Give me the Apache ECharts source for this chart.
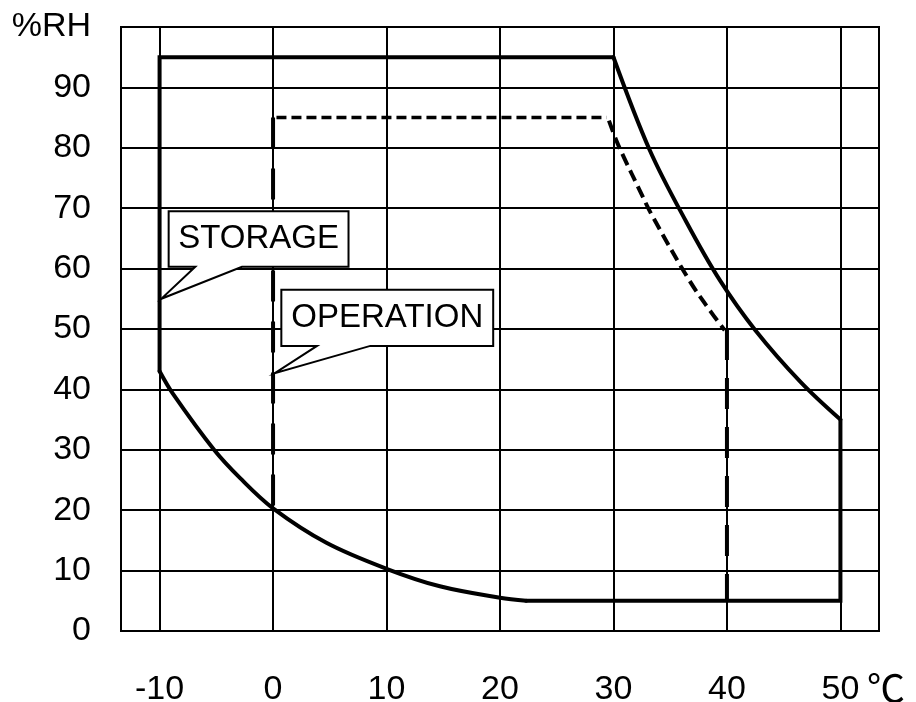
<!DOCTYPE html>
<html><head><meta charset="utf-8">
<script src="https://cdn.jsdelivr.net/npm/echarts@6/dist/echarts.min.js"></script>
<style>html,body{margin:0;padding:0;background:#fff}#c{width:916px;height:702px}</style>
</head><body><div id="c"></div>
<script>
// ---- data ----
const xTicks = [-10, 0, 10, 20, 30, 40, 50];
const yTicks = [0, 10, 20, 30, 40, 50, 60, 70, 80, 90, 100];
const yTickLabels = ['0', '10', '20', '30', '40', '50', '60', '70', '80', '90', '%RH'];
const xUnit = '℃';

// STORAGE (solid)
const storageLeftTop = [[-10, 43], [-10, 95], [30, 95]];
const storageRightCurve = [[30, 95], [33.2, 79.6], [36.4, 67.8], [39.4, 58], [42.5, 49.8], [46.5, 41.2], [50, 35]];
const storageRightBottom = [[50, 35], [50, 5], [22.3, 5]];
const storageLowerCurve = [[22.3, 5], [20, 5.5], [14.7, 7.4], [10, 10.3], [4.7, 14.6], [0, 20.3], [-2.9, 25.3], [-5.2, 30], [-8.8, 39.2], [-10, 43]];

// OPERATION (dashed)
const opLeft = [[0, 85], [0, 20.3]];
const opTop = [[0.3, 85], [29.4, 85]];
const opCurve = [[29.6, 84.5], [30.3, 81], [30.9, 78.5], [32.3, 73], [33.4, 68.8], [36.7, 58], [38.6, 52.8], [39.8, 49.8]];
const opRight = [[40, 50], [40, 5]];

// callouts
const calloutTexts = ['STORAGE', 'OPERATION'];
const calloutBoxes = [[-9.2, 69.5, 6.65, 60.3], [0.73, 56.5, 19.4, 47.2]]; // left, top, right, bottom
const calloutBase = [[-6.85, -2.74], [3.87, 8.57]];
const calloutTips = [[-9.85, 55], [0.15, 42.7]];

// ---- chart ----
const FONT = '"Liberation Sans", Arial, Helvetica, sans-serif';
const chart = echarts.init(document.getElementById('c'), null, {renderer: 'canvas'});

function solid(data, smooth) {
  return {type: 'line', data: data, smooth: smooth ? 0.35 : false,
    symbol: 'none', silent: true, z: 3,
    lineStyle: {color: '#000', width: 4, type: 'solid', cap: 'round', join: 'miter'}};
}
function dashed(data, dash, w, smooth) {
  return {type: 'line', data: data, smooth: smooth ? 0.35 : false,
    symbol: 'none', silent: true, z: 3,
    lineStyle: {color: '#000', width: w, type: dash, cap: 'butt'}};
}

chart.setOption({
  animation: false,
  backgroundColor: '#fff',
  grid: {left: 121, right: 37, top: 27, bottom: 71, show: true, borderColor: '#000', borderWidth: 2,
    backgroundColor: 'transparent', containLabel: false, outerBoundsMode: 'none'},
  xAxis: {
    type: 'value', min: -13.4, max: 53.4,
    axisLine: {show: false},
    axisTick: {show: false, customValues: xTicks},
    axisLabel: {customValues: xTicks, fontSize: 34, fontFamily: FONT, color: '#000', margin: 42},
    splitLine: {show: true, lineStyle: {color: '#000', width: 2}},
    name: xUnit, nameLocation: 'end', nameGap: -12,
    nameTextStyle: {fontSize: 38, fontFamily: '"Noto Sans CJK JP", sans-serif', color: '#000', align: 'left', verticalAlign: 'top', padding: [38, 0, 0, 0]}
  },
  yAxis: {
    type: 'value', min: 0, max: 100, interval: 10,
    axisLine: {show: false},
    axisTick: {show: false},
    axisLabel: {fontSize: 34, fontFamily: FONT, color: '#000', margin: 30,
      formatter: function (v) { const i = yTicks.indexOf(v); return i >= 0 ? yTickLabels[i] : ''; }},
    splitLine: {show: true, lineStyle: {color: '#000', width: 2}}
  },
  series: [
    solid(storageLeftTop, false),
    solid(storageRightCurve, true),
    solid(storageRightBottom, false),
    solid(storageLowerCurve, true),
    dashed(opLeft, [31, 20], 4, false),
    dashed(opTop, [10, 5], 3.5, false),
    dashed(opCurve, [12, 6], 4, true),
    dashed(opRight, [31, 18], 4, false),
    {
      type: 'custom', silent: true, clip: false, z: 10,
      data: calloutTips.map(function (t) { return [t[0], t[1]]; }),
      renderItem: function (params, api) {
        const i = params.dataIndex;
        const b = calloutBoxes[i];
        const tl = api.coord([b[0], b[1]]);
        const br = api.coord([b[2], b[3]]);
        const p1 = api.coord([calloutBase[i][0], b[3]]);
        const p2 = api.coord([calloutBase[i][1], b[3]]);
        const tip = api.coord(calloutTips[i]);
        const pts = [[tl[0], tl[1]], [br[0], tl[1]], [br[0], br[1]], [p2[0], br[1]], [tip[0], tip[1]], [p1[0], br[1]], [tl[0], br[1]]];
        return {type: 'group', children: [
          {type: 'polygon', shape: {points: pts}, style: {fill: '#fff', stroke: '#000', lineWidth: 2}},
          {type: 'text', x: (tl[0] + br[0]) / 2, y: (tl[1] + br[1]) / 2,
            style: {text: calloutTexts[i], fill: '#000', fontSize: 33, fontFamily: FONT, align: 'center', verticalAlign: 'middle'}}
        ]};
      }
    }
  ]
});
</script>
</body></html>
